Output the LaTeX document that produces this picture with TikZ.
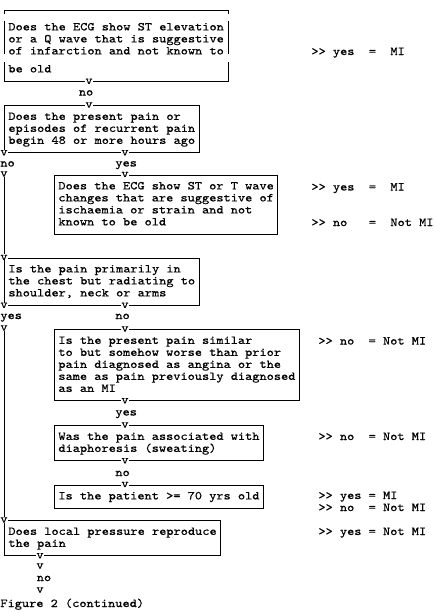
\documentclass[tikz,border=0pt]{standalone}
\usepackage{fontspec}
\setmonofont{lmmono10-regular.otf}[FakeStretch=1.14,FakeBold=0.6]
\usepackage{tikz}

\newcommand{\chartfont}{\ttfamily\fontsize{12}{12}\selectfont}
\newcommand{\qs}{\rule[-3pt]{0pt}{12pt}}

\begin{document}
\begin{tikzpicture}[x=1pt,y=-1pt,line width=0.8pt,
  every node/.style={font=\chartfont},
  qbox/.style={draw,anchor=north west,align=left,inner xsep=4pt,inner ysep=5.5pt},
  vmark/.style={fill=white,inner xsep=0.4pt,inner ysep=0pt},
  lbl/.style={anchor=base west,inner sep=0pt},
  res/.style={anchor=base west,inner sep=0pt}]
  \useasboundingbox (0,0) rectangle (435,613);
  \node[qbox,draw=none] (b1) at (4,10) {\rule[-3pt]{0pt}{17.5pt}Does the ECG show ST elevation\\\qs or a Q wave that is suggestive\\\qs of infarction and not known to\\[6pt]\qs be old};
  \draw (b1.north west) -- ++(0,4) (b1.north west) -- (b1.north east) -- ++(0,4);
  \draw (b1.north west) ++(0,11) -- ++(0,33) (b1.north east) ++(0,11) -- ++(0,33);
  \draw (b1.south west) ++(0,-19) -- (b1.south west) -- (b1.south east) -- ++(0,-19);
  \node[qbox] (b2) at (4,105) {\qs Does the present pain or\\\qs episodes of recurrent pain\\\qs begin 48 or more hours ago};
  \node[qbox] (b3) at (54,174.5) {\qs Does the ECG show ST or T wave\\\qs changes that are suggestive of\\\qs ischaemia or strain and not\\\qs known to be old};
  \node[qbox] (b4) at (4,257.5) {\qs Is the pain primarily in\\\qs the chest but radiating to\\\qs shoulder, neck or arms};
  \node[qbox] (b5) at (54,329) {\qs Is the present pain similar\\\qs to but somehow worse than prior\\\qs pain diagnosed as angina or the\\\qs same as pain previously diagnosed\\\qs as an MI};
  \node[qbox] (b6) at (54,425) {\qs Was the pain associated with\\\qs diaphoresis (sweating)};
  \node[qbox] (b7) at (54,484.5) {\qs Is the patient >= 70 yrs old};
  \node[qbox] (b8) at (4,520) {\qs Does local pressure reproduce\\\qs the pain};

  \node[vmark] (v1) at (89,0 |- b1.south) {v}; \node[lbl] (n1) at (78.5,95.5) {no};
  \node[vmark] (v2) at (89,0 |- b2.north) {v};
  \node[vmark] (v3) at (b2.south west) {v}; \node[vmark] (v4) at (125,0 |- b2.south) {v};
  \node[lbl] (n2) at (0,166.5) {no}; \node[lbl] (y2) at (115,166.5) {yes};
  \node[vmark] (v5) at (4,174) {v}; \node[vmark] (v6) at (125,0 |- b3.north) {v};
  \node[vmark] (v7) at (b4.north west) {v};
  \draw (v5) -- (v7);
  \node[vmark] (v8) at (b4.south west) {v}; \node[vmark] (v9) at (125,0 |- b4.south) {v};
  \node[lbl] (y4) at (0,319) {yes}; \node[lbl] (n4) at (115,319) {no};
  \node[vmark] (v10) at (4,328) {v}; \node[vmark] (v11) at (125,0 |- b5.north) {v};
  \node[vmark] (v12) at (125,0 |- b5.south) {v}; \node[lbl] (y5) at (115,415.5) {yes};
  \node[vmark] (v13) at (125,0 |- b6.north) {v};
  \node[vmark] (v14) at (125,0 |- b6.south) {v}; \node[lbl] (n6) at (115,476) {no};
  \node[vmark] (v15) at (125,0 |- b7.north) {v};
  \node[vmark] (v16) at (b8.north west) {v};
  \draw (v10) -- (v16);
  \node[vmark] (v17) at (40,0 |- b8.south) {v}; \node[vmark] (v18) at (40,566) {v};
  \node[lbl] (n8) at (36.4,581) {no}; \node[vmark] (v19) at (40,590) {v};
  \node[lbl] (cap) at (0,607) {Figure 2 (continued)};

  \node[res] (r1) at (311,55) {>> yes~~=~~MI};
  \node[res] (r2) at (311,190.5) {>> yes~~=~~MI};
  \node[res] (r3) at (311,226) {>> no~~~=~~Not MI};
  \node[res] (r4) at (318,344.5) {>> no~~= Not MI};
  \node[res] (r5) at (318,440) {>> no~~= Not MI};
  \node[res] (r6) at (318,499) {>> yes = MI};
  \node[res] (r7) at (318,511) {>> no~~= Not MI};
  \node[res] (r8) at (318,535) {>> yes = Not MI};
\end{tikzpicture}
\end{document}
